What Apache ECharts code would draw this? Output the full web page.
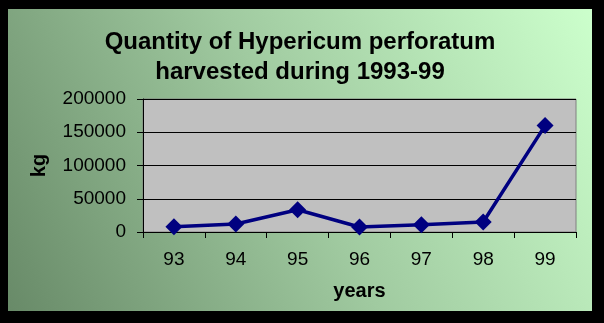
<!DOCTYPE html>
<html>
<head>
<meta charset="utf-8">
<script src="https://cdn.jsdelivr.net/npm/echarts@6/dist/echarts.min.js"></script>
<style>
  html, body { margin: 0; padding: 0; background: #000; width: 604px; height: 323px; overflow: hidden; }
  #chart { position: absolute; left: 8px; top: 9px; width: 584px; height: 302px; }
</style>
</head>
<body>
<div id="chart"></div>
<script>
const titleText = 'Quantity of Hypericum perforatum\nharvested during 1993-99';
const years = ['93', '94', '95', '96', '97', '98', '99'];
const harvestKg = [8000, 12000, 33500, 7500, 11000, 15000, 160000];
const yTicks = [0, 50000, 100000, 150000, 200000];
const xName = 'years';
const yName = 'kg';

const FONT = '"Liberation Sans", Arial, sans-serif';
const chart = echarts.init(document.getElementById('chart'), null, { renderer: 'canvas' });
chart.setOption({
  animation: false,
  backgroundColor: {
    type: 'linear', x: 0, y: 1, x2: 1, y2: 0,
    colorStops: [
      { offset: 0, color: '#688A68' },
      { offset: 0.5, color: '#A0CAA0' },
      { offset: 1, color: '#CCFFCC' }
    ]
  },
  title: {
    text: titleText,
    left: 'center',
    top: 13,
    textStyle: { fontFamily: FONT, fontSize: 24, fontWeight: 'bold', color: '#000', lineHeight: 30 }
  },
  grid: {
    left: 135, right: 16, top: 90, bottom: 79,
    show: true, backgroundColor: '#C0C0C0', borderColor: '#808080', borderWidth: 1
  },
  xAxis: {
    type: 'category',
    data: years,
    boundaryGap: true,
    name: xName,
    nameLocation: 'middle',
    nameGap: 49,
    nameTextStyle: { fontFamily: FONT, fontSize: 20, fontWeight: 'bold', color: '#000' },
    axisLine: { show: true, lineStyle: { color: '#000', width: 1 } },
    axisTick: { show: true, length: 6, alignWithLabel: false, lineStyle: { color: '#000' } },
    axisLabel: { fontFamily: FONT, fontSize: 19, color: '#000', margin: 18 },
    splitLine: { show: false }
  },
  yAxis: {
    type: 'value',
    min: yTicks[0],
    max: yTicks[yTicks.length - 1],
    interval: yTicks[1] - yTicks[0],
    name: yName,
    nameLocation: 'middle',
    nameGap: 94,
    nameTextStyle: { fontFamily: FONT, fontSize: 20, fontWeight: 'bold', color: '#000' },
    axisLine: { show: true, lineStyle: { color: '#000', width: 1 } },
    axisTick: { show: true, length: 6, lineStyle: { color: '#000' } },
    axisLabel: { fontFamily: FONT, fontSize: 19, color: '#000', margin: 17, formatter: function (v) { return String(v); } },
    splitLine: { show: true, lineStyle: { color: '#000', width: 1 } }
  },
  series: [{
    type: 'line',
    data: harvestKg,
    symbol: 'diamond',
    symbolSize: 17,
    lineStyle: { color: '#000080', width: 3.5 },
    itemStyle: { color: '#000080' }
  }]
});
</script>
</body>
</html>
